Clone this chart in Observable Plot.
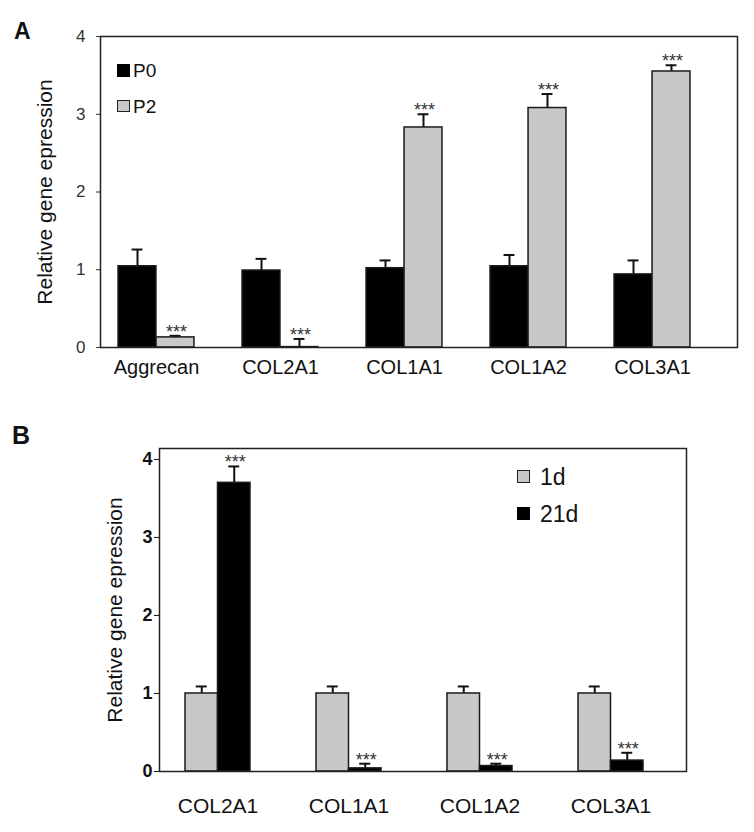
<!DOCTYPE html>
<html><head><meta charset="utf-8">
<script src="https://cdn.jsdelivr.net/npm/d3@7"></script>
<script src="https://cdn.jsdelivr.net/npm/@observablehq/plot@0.6"></script>
<style>
body{margin:0;background:#fff;font-family:"Liberation Sans",Arial,sans-serif;}
#wrap{position:relative;width:754px;height:832px;overflow:hidden;}
.panel{position:absolute;left:0;}
.letter{position:absolute;font-weight:bold;color:#111;line-height:1;}
.lg{position:absolute;line-height:1;color:#111;white-space:nowrap;}
.sw{position:absolute;box-sizing:border-box;}
</style>
</head><body>
<div id="wrap"></div>
<script>
// ---- Panel A data ----
const genesA = ["Aggrecan", "COL2A1", "COL1A1", "COL1A2", "COL3A1"];
const seriesA = ["P0", "P2"];
const p0Values = [1.045, 0.99, 1.02, 1.045, 0.94];
const p0Errors = [0.215, 0.15, 0.10, 0.145, 0.18];
const p2Values = [0.13, 0.005, 2.83, 3.08, 3.55];
const p2Errors = [0.02, 0.105, 0.17, 0.18, 0.08];
const p0Sig = ["", "", "", "", ""];
const p2Sig = ["***", "***", "***", "***", "***"];
const yTicksA = [0, 1, 2, 3, 4];

// ---- Panel B data ----
const genesB = ["COL2A1", "COL1A1", "COL1A2", "COL3A1"];
const seriesB = ["1d", "21d"];
const d1Values = [1.0, 1.0, 1.0, 1.0];
const d1Errors = [0.09, 0.09, 0.09, 0.09];
const d21Values = [3.70, 0.04, 0.07, 0.14];
const d21Errors = [0.21, 0.06, 0.03, 0.10];
const d1Sig = ["", "", "", ""];
const d21Sig = ["***", "***", "***", "***"];
const yTicksB = [0, 1, 2, 3, 4];

const yLabel = "Relative gene epression";

function buildPanel(cfg) {
  const rows = [];
  cfg.genes.forEach((g, i) => {
    cfg.series.forEach((s, j) => {
      const v = cfg.values[j][i], e = cfg.errors[j][i];
      rows.push({gene: g, series: s, j, value: v, top: v + e, sig: cfg.sig[j][i]});
    });
  });
  const step = (cfg.xRange[1] - cfg.xRange[0]) / cfg.genes.length;
  const marks = [];
  cfg.series.forEach((s, j) => {
    const data = rows.filter(r => r.j === j);
    const left = j === 0 ? step / 2 - cfg.barW : step / 2;
    const right = step - left - cfg.barW;
    const cL = left + cfg.barW / 2 - cfg.capW / 2;
    const cR = step - cL - cfg.capW;
    const dx = j === 0 ? -cfg.barW / 2 : cfg.barW / 2;
    marks.push(Plot.ruleX(data, {x: "gene", y1: "value", y2: "top", dx, stroke: "#111", strokeWidth: 2}));
    marks.push(Plot.tickY(data, {x: "gene", y: "top", insetLeft: cL, insetRight: cR, stroke: "#111", strokeWidth: 2}));
    marks.push(Plot.barY(data, {x: "gene", y: "value", insetLeft: left, insetRight: right,
      fill: cfg.fills[j], stroke: "#1a1a1a", strokeWidth: 1.5}));
    marks.push(Plot.text(data.filter(d => d.sig), {x: "gene", y: "top", text: "sig", dx: dx + 1,
      lineAnchor: "bottom", dy: cfg.starDy, fontSize: 18, fill: "#333", letterSpacing: "1.5px"}));
  });
  return Plot.plot({
    width: 754,
    height: cfg.height,
    marginTop: cfg.margins[0], marginRight: cfg.margins[1],
    marginBottom: cfg.margins[2], marginLeft: cfg.margins[3],
    style: {fontFamily: '"Liberation Sans", Arial, sans-serif', background: "#fff", color: "#111"},
    x: {type: "band", domain: cfg.genes, range: cfg.xRange, padding: 0},
    y: {domain: cfg.yDomain},
    marks: [
      Plot.axisY({ticks: cfg.yTicks, tickFormat: d => String(d), tickSize: cfg.yTickSize, tickPadding: cfg.yTickPad,
        fontSize: cfg.yFont, fontWeight: cfg.yWeight, color: cfg.yColor, label: null}),
      Plot.axisX({tickSize: 0, tickPadding: cfg.xTickPad, fontSize: cfg.xFont, color: "#111", label: null}),
      ...marks,
      Plot.frame({stroke: "#222", strokeWidth: 1.5}),
      Plot.text([yLabel], {frameAnchor: "left", textAnchor: "middle", rotate: -90, dx: cfg.labelDx, fontSize: 21, fill: "#111"})
    ]
  });
}

const wrap = document.getElementById("wrap");

const chartA = buildPanel({
  genes: genesA, series: seriesA,
  values: [p0Values, p2Values], errors: [p0Errors, p2Errors], sig: [p0Sig, p2Sig],
  fills: ["#000", "#c8c8c8"],
  height: 400, margins: [36, 17, 53, 100],
  xRange: [93.75, 714.25], barW: 38, capW: 11,
  yDomain: [0, 4], yTicks: yTicksA, yTickSize: 4, yTickPad: 11, yFont: 17, yWeight: "normal", yColor: "#333",
  xTickPad: 12, xFont: 20, labelDx: -55, starDy: 2
});
chartA.classList.add("panel");
chartA.style.top = "0px";
wrap.appendChild(chartA);

const chartB = buildPanel({
  genes: genesB, series: seriesB,
  values: [d1Values, d21Values], errors: [d1Errors, d21Errors], sig: [d1Sig, d21Sig],
  fills: ["#c8c8c8", "#000"],
  height: 432, margins: [48, 68, 61, 159],
  xRange: [151.5, 675.5], barW: 32.5, capW: 11,
  yDomain: [0, 4.14], yTicks: yTicksB, yTickSize: 5, yTickPad: 2, yFont: 18, yWeight: "bold", yColor: "#111",
  xTickPad: 27, xFont: 21, labelDx: -44, starDy: 2
});
chartB.classList.add("panel");
chartB.style.top = "400px";
wrap.appendChild(chartB);

function addText(cls, txt, left, top, size, extra) {
  const d = document.createElement("div");
  d.className = cls; d.textContent = txt;
  d.style.left = left + "px"; d.style.top = top + "px"; d.style.fontSize = size + "px";
  if (extra) Object.assign(d.style, extra);
  wrap.appendChild(d);
}
function addSwatch(left, top, w, h, fill, border) {
  const d = document.createElement("div");
  d.className = "sw";
  Object.assign(d.style, {left: left + "px", top: top + "px", width: w + "px", height: h + "px",
    background: fill, border: border});
  wrap.appendChild(d);
}
addText("letter", "A", 14, 20, 23);
addText("letter", "B", 12, 423, 25);

// legend A
addSwatch(117, 64, 13, 13, "#000", "1px solid #000");
addText("lg", seriesA[0], 133, 61, 19);
addSwatch(117, 100, 13, 12, "#c8c8c8", "1.5px solid #222");
addText("lg", seriesA[1], 133, 97, 19);

// legend B
addSwatch(517, 470, 13, 13, "#c8c8c8", "1.5px solid #222");
addText("lg", seriesB[0], 540, 466, 23);
addSwatch(517, 507, 13, 13, "#000", "1px solid #000");
addText("lg", seriesB[1], 540, 503, 23);
</script>
</body></html>
